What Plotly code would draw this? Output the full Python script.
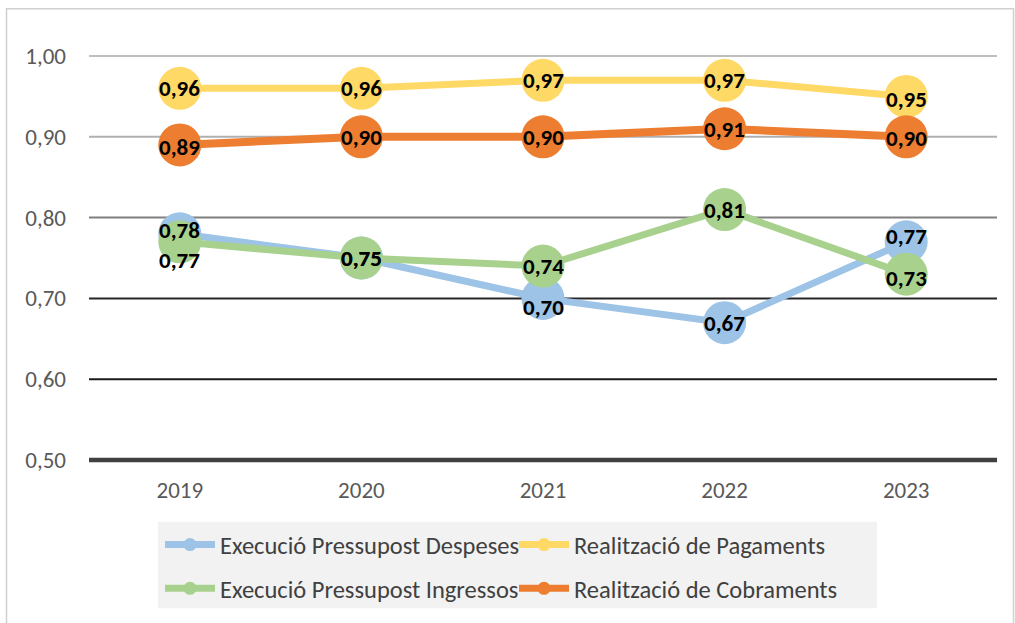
import plotly.graph_objects as go

years = ["2019", "2020", "2021", "2022", "2023"]

series_names = [
    "Execució Pressupost Despeses",
    "Realització de Pagaments",
    "Execució Pressupost Ingressos",
    "Realització de Cobraments",
]
despeses = [0.78, 0.75, 0.70, 0.67, 0.77]
pagaments = [0.96, 0.96, 0.97, 0.97, 0.95]
ingressos = [0.77, 0.75, 0.74, 0.81, 0.73]
cobraments = [0.89, 0.90, 0.90, 0.91, 0.90]

y_ticks = [0.5, 0.6, 0.7, 0.8, 0.9, 1.0]

# styling (not data)
colors = ["#9DC3E6", "#FFD966", "#A9D18E", "#ED7D31"]
line_widths = [7, 7, 7, 8]
label_shift = [
    [4, 0, -9, 0, 6],
    [0, 0, 0, 0, -3],
    [-18, 0, 0, 0, -4],
    [-2, 0, 0, 0, -1],
]
grid_colors = ["#404040", "#1a1a1a", "#262626", "#7f7f7f", "#b0b0b0", "#bfbfbf"]
grid_widths = [4.5, 2, 2, 2, 2, 2]

FONT = "Carlito, Lato, Calibri, sans-serif"

all_values = [despeses, pagaments, ingressos, cobraments]

fig = go.Figure()

# main traces
for name, vals, c, w in zip(series_names, all_values, colors, line_widths):
    fig.add_trace(go.Scatter(
        x=years, y=vals, mode="lines+markers", name=name,
        line=dict(color=c, width=w),
        marker=dict(color=c, size=43),
        cliponaxis=False, showlegend=False,
    ))

# legend-only traces (small markers), two rows via two legends
legend_ids = ["legend", "legend", "legend2", "legend2"]
for name, c, lg in zip(series_names, colors, legend_ids):
    fig.add_trace(go.Scatter(
        x=[None], y=[None], mode="lines+markers", name=name,
        line=dict(color=c, width=7),
        marker=dict(color=c, size=13),
        legend=lg,
    ))

# data labels
for vals, shifts in zip(all_values, label_shift):
    for i, (v, s) in enumerate(zip(vals, shifts)):
        fig.add_annotation(
            x=i, y=v, text=f"{v:.2f}".replace(".", ","),
            showarrow=False, yshift=s,
            font=dict(family=FONT, size=23, color="black", weight="bold"),
        )

# gridlines
shapes = []
for t, gc, gw in zip(y_ticks, grid_colors, grid_widths):
    shapes.append(dict(type="line", xref="paper", yref="y", x0=0, x1=1,
                       y0=t, y1=t, line=dict(color=gc, width=gw), layer="below"))

# legend background and outer frame (pixel -> paper helpers)
PLOT_L, PLOT_R, PLOT_T, PLOT_B = 89, 997, 52, 466


def px_x(px):
    return (px - PLOT_L) / (PLOT_R - PLOT_L)


def px_y(py):
    return (PLOT_B - py) / (PLOT_B - PLOT_T)


shapes.append(dict(type="rect", xref="paper", yref="paper",
                   x0=px_x(158), x1=px_x(877), y0=px_y(524), y1=px_y(611),
                   fillcolor="#F2F2F2", line=dict(width=0), layer="below"))
shapes.append(dict(type="rect", xref="paper", yref="paper",
                   x0=px_x(6.5), x1=px_x(1013.5), y0=px_y(8.5), y1=px_y(640),
                   fillcolor="rgba(0,0,0,0)", line=dict(color="#D0D0D0", width=1.5),
                   layer="below"))

legend_common = dict(
    orientation="h", xanchor="left", yanchor="middle",
    bgcolor="rgba(0,0,0,0)", font=dict(family=FONT, size=24.5, color="#404040"),
    entrywidth=289, entrywidthmode="pixels", itemwidth=50,
)

fig.update_layout(
    width=1015, height=623,
    margin=dict(l=PLOT_L, r=1015 - PLOT_R, t=PLOT_T, b=623 - PLOT_B),
    paper_bgcolor="white", plot_bgcolor="white",
    separators=",.",
    font=dict(family=FONT),
    shapes=shapes,
    xaxis=dict(
        type="category", range=[-0.5, 4.5], showgrid=False, zeroline=False,
        showline=False, ticks="", ticklabelstandoff=10,
        tickfont=dict(family=FONT, size=23, color="#595959"),
    ),
    yaxis=dict(
        range=[0.495, 1.005], tickvals=y_ticks, tickformat=".2f",
        showgrid=False, zeroline=False, showline=False, ticks="",
        ticklabelstandoff=22,
        tickfont=dict(family=FONT, size=23, color="#595959"),
    ),
    legend=dict(x=px_x(160), y=px_y(547), **legend_common),
    legend2=dict(x=px_x(160), y=px_y(591), **legend_common),
)

fig.write_html("out.html", config={"displayModeBar": False},
               post_script="document.body.style.margin='0';")
